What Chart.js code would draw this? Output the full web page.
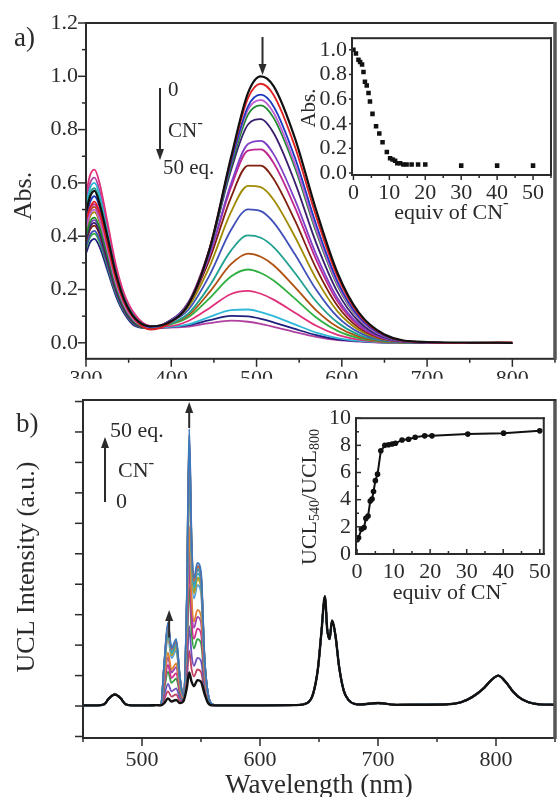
<!DOCTYPE html>
<html>
<head>
<meta charset="utf-8">
<title>Absorption and UCL titration with CN-</title>
<script src="https://cdn.jsdelivr.net/npm/chart.js@4.4.1/dist/chart.umd.min.js"></script>
<style>
  html, body { margin: 0; padding: 0; background: #fff; }
  #wrap { position: relative; width: 559px; height: 797px; overflow: hidden; background: #fff; }
  canvas { position: absolute; }
</style>
</head>
<body>
<div id="wrap">
  <canvas id="absChart" width="559" height="380" style="left:0;top:0"></canvas>
  <canvas id="absInset" width="266" height="205" style="left:290px;top:20px"></canvas>
  <canvas id="uclChart" width="559" height="417" style="left:0;top:380px"></canvas>
  <canvas id="uclInset" width="266" height="215" style="left:290px;top:400px"></canvas>
</div>
<script>
// panel a: absorption spectra while CN- is added (0 -> 50 eq.)
const absWavelengths = [300, 305, 310, 316, 325, 335, 345, 358, 375, 395, 420, 445, 470, 490, 505, 520, 545, 570, 595, 620, 650, 700, 750, 800];
const absSpectra = [
  [0.49, 0.55, 0.57, 0.52, 0.40, 0.26, 0.16, 0.09, 0.062, 0.073, 0.144, 0.352, 0.695, 0.938, 1.0, 0.963, 0.768, 0.497, 0.262, 0.113, 0.031, 0.003, 0.001, 0.0],
  [0.46, 0.51, 0.53, 0.49, 0.37, 0.24, 0.15, 0.085, 0.05, 0.068, 0.146, 0.354, 0.689, 0.918, 0.972, 0.930, 0.736, 0.473, 0.248, 0.106, 0.029, 0.002, 0.0, 0.002],
  [0.47, 0.53, 0.55, 0.51, 0.385, 0.25, 0.154, 0.088, 0.06, 0.073, 0.147, 0.351, 0.675, 0.887, 0.931, 0.887, 0.695, 0.443, 0.230, 0.098, 0.026, 0.002, 0.0, 0.0],
  [0.43, 0.485, 0.50, 0.46, 0.35, 0.225, 0.14, 0.08, 0.058, 0.075, 0.150, 0.356, 0.673, 0.875, 0.911, 0.863, 0.671, 0.424, 0.219, 0.092, 0.024, 0.002, 0.0, 0.0],
  [0.40, 0.456, 0.47, 0.432, 0.329, 0.212, 0.132, 0.075, 0.057, 0.075, 0.147, 0.349, 0.659, 0.856, 0.891, 0.844, 0.657, 0.415, 0.214, 0.090, 0.024, 0.002, 0.0, 0.0],
  [0.387, 0.437, 0.45, 0.414, 0.315, 0.203, 0.126, 0.072, 0.057, 0.077, 0.152, 0.353, 0.647, 0.819, 0.839, 0.787, 0.602, 0.374, 0.190, 0.079, 0.020, 0.001, 0.0, 0.0],
  [0.396, 0.446, 0.46, 0.423, 0.322, 0.207, 0.129, 0.074, 0.058, 0.076, 0.147, 0.332, 0.597, 0.746, 0.758, 0.708, 0.537, 0.331, 0.167, 0.069, 0.017, 0.001, 0.0, 0.0],
  [0.447, 0.504, 0.52, 0.478, 0.364, 0.234, 0.146, 0.083, 0.06, 0.076, 0.147, 0.330, 0.583, 0.721, 0.726, 0.675, 0.508, 0.311, 0.155, 0.064, 0.016, 0.001, 0.0, 0.0],
  [0.378, 0.427, 0.44, 0.405, 0.308, 0.198, 0.123, 0.07, 0.056, 0.076, 0.144, 0.314, 0.545, 0.665, 0.665, 0.615, 0.459, 0.279, 0.138, 0.056, 0.014, 0.001, 0.0, 0.0],
  [0.421, 0.475, 0.49, 0.451, 0.343, 0.221, 0.137, 0.078, 0.058, 0.074, 0.135, 0.287, 0.490, 0.589, 0.584, 0.537, 0.398, 0.240, 0.118, 0.048, 0.012, 0.001, 0.0, 0.0],
  [0.361, 0.407, 0.42, 0.386, 0.294, 0.189, 0.118, 0.067, 0.056, 0.072, 0.124, 0.254, 0.423, 0.501, 0.494, 0.452, 0.332, 0.199, 0.097, 0.039, 0.009, 0.0, 0.0, 0.0],
  [0.499, 0.563, 0.58, 0.534, 0.406, 0.261, 0.162, 0.093, 0.062, 0.068, 0.110, 0.214, 0.346, 0.403, 0.394, 0.359, 0.262, 0.155, 0.076, 0.030, 0.007, 0.0, 0.0, 0.0],
  [0.439, 0.495, 0.51, 0.469, 0.357, 0.230, 0.143, 0.082, 0.059, 0.067, 0.103, 0.191, 0.295, 0.335, 0.323, 0.291, 0.209, 0.122, 0.059, 0.023, 0.005, 0.0, 0.0, 0.0],
  [0.353, 0.398, 0.41, 0.377, 0.287, 0.185, 0.115, 0.066, 0.055, 0.066, 0.096, 0.168, 0.249, 0.275, 0.262, 0.234, 0.166, 0.095, 0.045, 0.018, 0.004, 0.0, 0.0, 0.0],
  [0.559, 0.631, 0.65, 0.598, 0.455, 0.293, 0.182, 0.104, 0.063, 0.062, 0.082, 0.131, 0.183, 0.195, 0.184, 0.162, 0.113, 0.064, 0.030, 0.012, 0.002, 0.0, 0.0, 0.0],
  [0.516, 0.582, 0.60, 0.552, 0.42, 0.27, 0.168, 0.096, 0.062, 0.059, 0.069, 0.097, 0.123, 0.125, 0.115, 0.100, 0.069, 0.038, 0.018, 0.007, 0.001, 0.0, 0.0, 0.0],
  [0.335, 0.378, 0.39, 0.359, 0.273, 0.176, 0.109, 0.062, 0.054, 0.058, 0.066, 0.085, 0.101, 0.099, 0.090, 0.077, 0.052, 0.029, 0.013, 0.006, 0.001, 0.0, 0.0, 0.0],
  [0.533, 0.601, 0.62, 0.570, 0.434, 0.279, 0.174, 0.099, 0.062, 0.057, 0.061, 0.074, 0.083, 0.079, 0.071, 0.060, 0.040, 0.022, 0.010, 0.005, 0.001, 0.0, 0.0, 0.0]
];
const absColors = ['#111111', '#e02020', '#2038c0', '#c060d0', '#208a30', '#3a1f6e', '#8040c8', '#c02890', '#802010',
                   '#a08a00', '#4050b8', '#20a090', '#b05010', '#30b040', '#e0307a', '#30b8d8', '#202080', '#b040a0'];
const absTicksX = [300, 400, 500, 600, 700, 800];
const absTicksY = [0, 0.2, 0.4, 0.6, 0.8, 1.0, 1.2];

// inset a: absorbance at 505 nm vs equiv of CN-
const absEquiv = [0, 0.7, 1.4, 1.85, 2.4, 2.8, 3.2, 3.7, 4.2, 4.6, 5.3, 6.3, 7.2, 8.1, 9.3, 10.2, 10.9, 11.6, 12.2, 13, 13.9, 14.8, 16.2, 18, 20, 30, 40, 50];
const absPeak = [1.0, 0.97, 0.92, 0.9, 0.88, 0.82, 0.74, 0.71, 0.65, 0.58, 0.48, 0.38, 0.32, 0.25, 0.17, 0.12, 0.11, 0.10, 0.08, 0.08, 0.07, 0.07, 0.07, 0.07, 0.07, 0.06, 0.06, 0.06];
const equivTicks = [0, 10, 20, 30, 40, 50];
const absInsetTicksY = [0, 0.2, 0.4, 0.6, 0.8, 1.0];

// panel b: UCL spectra; the 515-560 nm region changes with CN-, the rest stays put
const uclLeftWave = [450, 462, 468, 472, 477, 482, 486, 492, 505, 512];
const uclLeftVal = [0.02, 0.02, 0.06, 0.25, 0.38, 0.25, 0.06, 0.02, 0.02, 0.03];
const uclMidWave = [516, 519, 522, 525, 529, 532, 535, 538, 540, 542, 544, 547, 550, 553, 556, 560];
const uclMid = [
  [0.02, 0.1, 0.25, 0.15, 0.2, 0.1, 0.15, 0.6, 1.1, 0.8, 0.65, 0.85, 0.8, 0.4, 0.1, 0.02],       // 0 eq.
  [0.05, 1.5, 2.75, 1.9, 2.2, 1.0, 0.35, 3.6, 9.1, 5.5, 4.2, 4.7, 4.4, 1.6, 0.4, 0.05],          // 50 eq.
  [0.05, 1.47, 2.69, 1.86, 2.15, 0.98, 0.35, 3.53, 8.9, 5.38, 4.11, 4.6, 4.31, 1.57, 0.39, 0.05],
  [0.05, 1.44, 2.65, 1.83, 2.12, 0.96, 0.34, 3.48, 8.78, 5.31, 4.06, 4.55, 4.26, 1.55, 0.39, 0.05],
  [0.05, 1.43, 2.63, 1.81, 2.1, 0.96, 0.34, 3.45, 8.7, 5.27, 4.02, 4.51, 4.22, 1.54, 0.39, 0.05],
  [0.05, 1.42, 2.6, 1.8, 2.08, 0.95, 0.34, 3.42, 8.62, 5.22, 3.99, 4.47, 4.18, 1.53, 0.38, 0.05],
  [0.05, 1.37, 2.53, 1.74, 2.02, 0.92, 0.33, 3.33, 8.38, 5.08, 3.88, 4.35, 4.08, 1.49, 0.37, 0.05],
  [0.05, 1.33, 2.44, 1.68, 1.95, 0.89, 0.33, 3.23, 8.1, 4.91, 3.76, 4.22, 3.95, 1.45, 0.36, 0.05],
  [0.05, 1.3, 2.4, 1.66, 1.92, 0.87, 0.32, 3.18, 7.98, 4.84, 3.7, 4.16, 3.9, 1.43, 0.36, 0.05],
  [0.04, 1.23, 2.28, 1.57, 1.82, 0.83, 0.31, 3.03, 7.58, 4.61, 3.53, 3.97, 3.72, 1.37, 0.34, 0.04],
  [0.04, 0.94, 1.75, 1.2, 1.4, 0.64, 0.27, 2.4, 5.9, 3.62, 2.78, 3.16, 2.96, 1.12, 0.28, 0.04],
  [0.04, 0.86, 1.6, 1.1, 1.28, 0.59, 0.26, 2.22, 5.42, 3.34, 2.57, 2.93, 2.74, 1.05, 0.26, 0.04],
  [0.03, 0.72, 1.35, 0.92, 1.08, 0.5, 0.24, 1.92, 4.62, 2.87, 2.21, 2.54, 2.38, 0.93, 0.23, 0.03],
  [0.03, 0.59, 1.13, 0.76, 0.9, 0.42, 0.22, 1.65, 3.9, 2.45, 1.89, 2.2, 2.06, 0.82, 0.21, 0.03],
  [0.03, 0.37, 0.73, 0.48, 0.58, 0.27, 0.19, 1.17, 2.62, 1.69, 1.32, 1.58, 1.48, 0.63, 0.16, 0.03],
  [0.02, 0.23, 0.48, 0.31, 0.38, 0.18, 0.17, 0.87, 1.82, 1.22, 0.97, 1.2, 1.12, 0.51, 0.13, 0.02]
];
const uclRightWave = [565, 600, 630, 640, 645, 649, 652, 655, 657, 659, 661, 664, 667, 671, 675, 685, 700, 715, 760, 770, 780, 790, 796, 802, 808, 815, 822, 832, 850];
const uclRightVal = [0.02, 0.02, 0.03, 0.1, 0.4, 1.2, 2.4, 3.6, 2.5, 2.2, 2.8, 2.3, 1.3, 0.5, 0.2, 0.05, 0.1, 0.04, 0.06, 0.12, 0.3, 0.6, 0.85, 1.0, 0.8, 0.45, 0.22, 0.08, 0.04];
const uclColors = ['#111111', '#3a78c0', '#e05a30', '#40a8d0', '#2a9a9a', '#5080c8', '#30b0c8', '#a0a030', '#d0a020',
                   '#50a0e0', '#e08030', '#a040b0', '#d03090', '#30a040', '#7050c0', '#c04060'];
const uclTicksX = [500, 600, 700, 800];
const uclTicksY = [-1, 0, 1, 2, 3, 4, 5, 6, 7, 8, 9, 10];

// inset b: UCL540/UCL800 vs equiv of CN-
const uclEquiv = [0, 0.4, 1.2, 1.9, 2.4, 3.0, 3.6, 4.1, 4.5, 5.0, 5.6, 6.5, 7.6, 8.6, 9.6, 10.5, 12.3, 14.1, 15.9, 18.5, 20.5, 30.3, 40.1, 50];
const uclRatio = [1.05, 1.19, 1.83, 1.95, 2.62, 2.79, 3.9, 4.05, 4.6, 5.4, 5.88, 7.6, 8.0, 8.05, 8.1, 8.15, 8.4, 8.45, 8.6, 8.7, 8.7, 8.83, 8.9, 9.07];
const uclInsetTicksY = [0, 2, 4, 6, 8, 10];

const SERIF = '"Liberation Serif", "Times New Roman", serif';
const INK = '#2b2b2b';
Chart.defaults.font.family = SERIF;
Chart.defaults.color = INK;

function onStep(v, step) {
  return Math.abs(v / step - Math.round(v / step)) < 1e-6;
}

function richText(ctx, x, y, parts, align) {
  let w = 0;
  parts.forEach(p => { ctx.font = p.size + 'px ' + SERIF; p.w = ctx.measureText(p.t).width; w += p.w; });
  let cx = align === 'center' ? x - w / 2 : (align === 'right' ? x - w : x);
  ctx.textAlign = 'left';
  parts.forEach(p => {
    ctx.font = p.size + 'px ' + SERIF;
    ctx.fillText(p.t, cx, y + (p.dy || 0));
    cx += p.w;
  });
}

function arrow(ctx, x, yTail, yHead) {
  const dir = yHead > yTail ? 1 : -1;
  ctx.lineWidth = 2;
  ctx.beginPath();
  ctx.moveTo(x, yTail);
  ctx.lineTo(x, yHead - dir * 8);
  ctx.stroke();
  ctx.beginPath();
  ctx.moveTo(x, yHead);
  ctx.lineTo(x - 4, yHead - dir * 11);
  ctx.lineTo(x + 4, yHead - dir * 11);
  ctx.closePath();
  ctx.fill();
}

// draws major/minor tick marks and the box round the plot area
const axisTicks = {
  id: 'axisTicks',
  afterDraw(chart, args, o) {
    const { ctx, chartArea: a } = chart;
    ctx.save();
    ctx.strokeStyle = INK;
    ctx.fillStyle = INK;
    ctx.lineWidth = o.tickWidth || 1.5;
    ['x', 'y'].forEach(id => {
      const s = chart.scales[id], c = o[id];
      const n0 = Math.ceil(s.min / c.minor - 1e-9), n1 = Math.floor(s.max / c.minor + 1e-9);
      for (let k = n0; k <= n1; k++) {
        const v = k * c.minor;
        const len = (onStep(v, c.major) ? c.len : c.minorLen) * (c.inward ? -1 : 1);
        const p = s.getPixelForValue(v);
        ctx.beginPath();
        if (id === 'x') { ctx.moveTo(p, a.bottom); ctx.lineTo(p, a.bottom + len); }
        else { ctx.moveTo(a.left, p); ctx.lineTo(a.left - len, p); }
        ctx.stroke();
      }
    });
    // box as solid bars so every side has the same weight
    const fw = o.frame || 2;
    ctx.fillRect(a.left - fw / 2, a.top - fw / 2, a.right - a.left + fw, fw);
    ctx.fillRect(a.left - fw / 2, a.bottom - fw / 2, a.right - a.left + fw, fw);
    ctx.fillRect(a.left - fw / 2, a.top - fw / 2, fw, a.bottom - a.top + fw);
    ctx.fillRect(a.right - fw / 2, a.top - fw / 2, fw, a.bottom - a.top + fw);
    if (o.rightWidth) {
      ctx.fillStyle = '#555';
      ctx.fillRect(a.right - o.rightWidth / 2, a.top - fw / 2, o.rightWidth, a.bottom - a.top + fw);
    }
    ctx.restore();
  }
};

// linear axis whose labelled ticks come from one of the tick arrays above
function axis(min, max, tickValues, size, pad, fmt, fit) {
  return {
    type: 'linear', min: min, max: max,
    afterFit: fit,
    afterBuildTicks: s => { s.ticks = tickValues.map(v => ({ value: v })); },
    grid: { display: false, drawTicks: false },
    border: { display: false },
    ticks: { padding: pad, autoSkip: false, maxRotation: 0, color: INK, font: { family: SERIF, size: size }, callback: fmt }
  };
}

function baseOptions(padding, scales, ticksCfg) {
  return {
    responsive: false, animation: false, devicePixelRatio: 1,
    layout: { padding: padding },
    events: [],
    plugins: { legend: { display: false }, tooltip: { enabled: false }, axisTicks: ticksCfg },
    scales: scales
  };
}

const plain = v => String(v);
const oneDecimal = v => Number(v).toFixed(1);

// ---------- panel a ----------
const absNotes = {
  id: 'absNotes',
  afterDraw(chart) {
    const { ctx, scales: { x } } = chart;
    ctx.save();
    ctx.fillStyle = INK;
    ctx.strokeStyle = INK;
    ctx.textBaseline = 'alphabetic';
    richText(ctx, 14, 46, [{ t: 'a)', size: 27 }]);
    arrow(ctx, 160, 88, 160);
    richText(ctx, 168, 96, [{ t: '0', size: 21 }]);
    richText(ctx, 168, 137, [{ t: 'CN', size: 21 }, { t: '-', size: 17, dy: -9 }]);
    richText(ctx, 163, 174, [{ t: '50 eq.', size: 21 }]);
    arrow(ctx, x.getPixelForValue(507), 37, 75);
    ctx.translate(24, 196);
    ctx.rotate(-Math.PI / 2);
    ctx.textBaseline = 'middle';
    richText(ctx, 0, 0, [{ t: 'Abs.', size: 26 }], 'center');
    ctx.restore();
  }
};

new Chart(document.getElementById('absChart'), {
  type: 'line',
  data: {
    datasets: absSpectra.map((vals, i) => ({
      data: vals.map((v, j) => ({ x: absWavelengths[j], y: v })),
      borderColor: absColors[i],
      borderWidth: i === 0 ? 2.2 : 1.8,
      pointRadius: 0,
      cubicInterpolationMode: 'monotone',
      fill: false
    }))
  },
  options: baseOptions({ top: 23, right: 4, left: 0, bottom: 0 }, {
    x: axis(300, 850, absTicksX, 22, 7, plain, s => { s.height = 20; }),
    y: axis(-0.06, 1.2, absTicksY, 22, 8, oneDecimal, s => { s.width = 86; })
  }, {
    x: { major: 100, minor: 50, len: 8, minorLen: 4 },
    y: { major: 0.2, minor: 0.1, len: 8, minorLen: 4 },
    rightWidth: 3.5
  }),
  plugins: [axisTicks, absNotes]
});

// ---------- inset a ----------
const absInsetNotes = {
  id: 'absInsetNotes',
  afterDraw(chart) {
    const { ctx, chartArea: a } = chart;
    ctx.save();
    ctx.fillStyle = INK;
    ctx.textBaseline = 'middle';
    richText(ctx, (a.left + a.right) / 2, 193, [{ t: 'equiv of CN', size: 22 }, { t: '-', size: 17, dy: -9 }], 'center');
    ctx.translate(19, 88);
    ctx.rotate(-Math.PI / 2);
    richText(ctx, 0, 0, [{ t: 'Abs.', size: 21 }], 'center');
    ctx.restore();
  }
};

new Chart(document.getElementById('absInset'), {
  type: 'line',
  data: {
    datasets: [{
      data: absEquiv.map((e, i) => ({ x: e, y: absPeak[i] })),
      showLine: false,
      pointStyle: 'rect',
      pointRadius: 3.2,
      backgroundColor: '#111',
      borderColor: '#111',
      borderWidth: 0
    }]
  },
  options: baseOptions({ top: 13, right: 5, left: 0, bottom: 0 }, {
    x: axis(-0.4, 55, equivTicks, 22, 5, plain, s => { s.height = 50; }),
    y: axis(-0.016, 1.094, absInsetTicksY, 22, 5, oneDecimal, s => { s.width = 62; })
  }, {
    x: { major: 10, minor: 5, len: 5, minorLen: 3 },
    y: { major: 0.2, minor: 0.2, len: 3, minorLen: 3 },
    frame: 2
  }),
  plugins: [axisTicks, absInsetNotes]
});

// ---------- panel b (canvas starts 20 px above the plot box) ----------
const uclWavelengths = [...uclLeftWave, ...uclMidWave, ...uclRightWave];

const uclNotes = {
  id: 'uclNotes',
  afterDraw(chart) {
    const { ctx, scales: { x, y }, chartArea: a } = chart;
    ctx.save();
    ctx.fillStyle = INK;
    ctx.strokeStyle = INK;
    ctx.fillRect(a.left - 1, a.top - 1, a.right - a.left + 2, 2);
    ctx.textBaseline = 'alphabetic';
    richText(ctx, 16, 52, [{ t: 'b)', size: 27 }]);
    arrow(ctx, 105, 122, 57);
    richText(ctx, 110, 57, [{ t: '50 eq.', size: 22 }]);
    richText(ctx, 118, 97, [{ t: 'CN', size: 22 }, { t: '-', size: 17, dy: -9 }]);
    richText(ctx, 116, 128, [{ t: '0', size: 22 }]);
    arrow(ctx, x.getPixelForValue(540), a.top + 28, a.top + 2);
    arrow(ctx, x.getPixelForValue(523), y.getPixelForValue(2.25), y.getPixelForValue(3.15));
    ctx.textBaseline = 'middle';
    richText(ctx, (a.left + a.right) / 2, 406, [{ t: 'Wavelength (nm)', size: 27 }], 'center');
    ctx.translate(27, 187);
    ctx.rotate(-Math.PI / 2);
    richText(ctx, 0, 0, [{ t: 'UCL Intensity (a.u.)', size: 26 }], 'center');
    ctx.restore();
  }
};

const uclYAxis = axis(-1.05, 10.05, uclTicksY, 22, 8, () => '', s => { s.width = 83; });
uclYAxis.ticks.display = false;

new Chart(document.getElementById('uclChart'), {
  type: 'line',
  data: {
    datasets: uclMid.map((mid, i) => {
      const vals = [...uclLeftVal, ...mid, ...uclRightVal];
      return {
        data: vals.map((v, j) => ({ x: uclWavelengths[j], y: v })),
        borderColor: uclColors[i],
        borderWidth: i === 0 ? 2.4 : 1.8,
        pointRadius: 0,
        cubicInterpolationMode: 'monotone',
        fill: false
      };
    })
  },
  options: baseOptions({ top: 20, right: 4, left: 0, bottom: 0 }, {
    x: axis(450, 850, uclTicksX, 22, 9, plain, s => { s.height = 59; }),
    y: uclYAxis
  }, {
    x: { major: 100, minor: 50, len: 8, minorLen: 4 },
    y: { major: 1, minor: 1, len: 8, minorLen: 8 },
    rightWidth: 3.5
  }),
  plugins: [axisTicks, uclNotes]
});

// ---------- inset b ----------
const uclInsetNotes = {
  id: 'uclInsetNotes',
  afterDraw(chart) {
    const { ctx, chartArea: a } = chart;
    ctx.save();
    ctx.fillStyle = INK;
    ctx.textBaseline = 'middle';
    richText(ctx, (a.left + a.right) / 2, 193, [{ t: 'equiv of CN', size: 22 }, { t: '-', size: 17, dy: -9 }], 'center');
    ctx.translate(20, 97);
    ctx.rotate(-Math.PI / 2);
    richText(ctx, 0, 0, [
      { t: 'UCL', size: 22 }, { t: '540', size: 14, dy: 5 },
      { t: '/UCL', size: 22 }, { t: '800', size: 14, dy: 5 }
    ], 'center');
    ctx.restore();
  }
};

new Chart(document.getElementById('uclInset'), {
  type: 'line',
  data: {
    datasets: [{
      data: uclEquiv.map((e, i) => ({ x: e, y: uclRatio[i] })),
      borderColor: '#111',
      backgroundColor: '#111',
      borderWidth: 2,
      pointRadius: 2.8,
      pointBorderWidth: 0,
      tension: 0
    }]
  },
  options: baseOptions({ top: 13, right: 12, left: 0, bottom: 0 }, {
    x: axis(-0.3, 51.1, equivTicks, 22, 5, plain, s => { s.height = 61; }),
    y: axis(0, 10, uclInsetTicksY, 22, 5, plain, s => { s.width = 66; })
  }, {
    x: { major: 10, minor: 5, len: 5, minorLen: 3, inward: true },
    y: { major: 2, minor: 1, len: 5, minorLen: 3, inward: true },
    frame: 2
  }),
  plugins: [axisTicks, uclInsetNotes]
});
</script>
</body>
</html>
